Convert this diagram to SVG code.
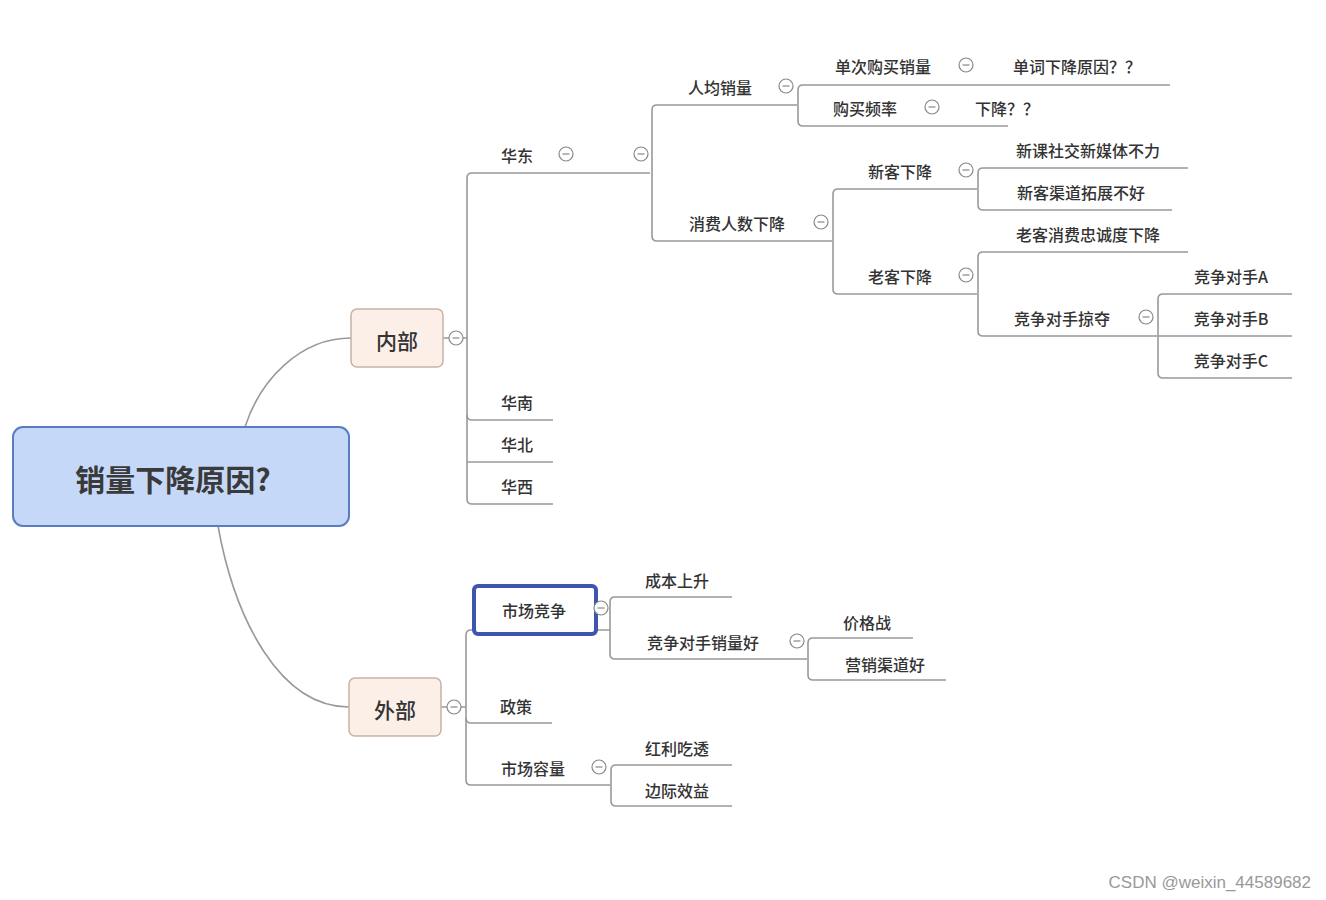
<svg xmlns="http://www.w3.org/2000/svg" width="1326" height="900" viewBox="0 0 1326 900">
<style>
.t{font-family:"Noto Sans CJK SC","Liberation Sans",sans-serif;font-size:16px;fill:#333;text-anchor:middle;dominant-baseline:central;font-weight:500}
.c{fill:#fff;stroke:#888;stroke-width:1.2}
.l{fill:none;stroke:#999;stroke-width:1.6}
</style>
<defs>
<g id="col"><circle r="7" class="c"/><line x1="-3.5" x2="3.5" y1="0" y2="0" stroke="#888" stroke-width="1.2"/></g>
</defs>
<rect width="1326" height="900" fill="#fff"/>
<g id="connectors" class="l">
<path d="M245 427 C260 380 300 338 351 338"/>
<path d="M218 526 C235 620 280 707 349 707"/>
<path d="M443 338 H449 M463 338 H467 M467 178 V499"/>
<path d="M467 178 Q467 173 472 173 H650"/>
<path d="M467 415 Q467 420 472 420 H553"/>
<path d="M467 462 H553"/>
<path d="M467 499 Q467 504 472 504 H553"/>
<path d="M652 110 V236 M652 110 Q652 105 657 105 H797 M652 236 Q652 241 657 241 H832"/>
<path d="M798 90 V121 M798 90 Q798 85 803 85 H1170 M798 121 Q798 126 803 126 H1008"/>
<path d="M833 194 V289 M833 194 Q833 189 838 189 H977 M833 289 Q833 294 838 294 H977"/>
<path d="M978 173 V205 M978 173 Q978 168 983 168 H1188 M978 205 Q978 210 983 210 H1172"/>
<path d="M978 257 V331 M978 257 Q978 252 983 252 H1188 M978 331 Q978 336 983 336 H1157"/>
<path d="M1158 299 V373 M1158 299 Q1158 294 1163 294 H1292 M1158 336 H1292 M1158 373 Q1158 378 1163 378 H1292"/>
<path d="M441 707 H447 M461 707 H466 M466 635 V780"/>
<path d="M466 635 Q466 630 471 630 H474"/>
<path d="M466 718 Q466 723 471 723 H552"/>
<path d="M466 780 Q466 785 471 785 H610"/>
<path d="M596 630 H610 M610 602 V654 M610 602 Q610 597 615 597 H732 M610 654 Q610 659 615 659 H807"/>
<path d="M808 643 V675 M808 643 Q808 638 813 638 H913 M808 675 Q808 680 813 680 H946"/>
<path d="M611 770 V801 M611 770 Q611 765 616 765 H732 M611 801 Q611 806 616 806 H732"/>
</g>
<g id="root"><rect x="13" y="427" width="336" height="99" rx="10" fill="#c6d8f8" stroke="#5a7cc0" stroke-width="2"/><text class="t" x="173" y="478" style="font-size:30px;font-weight:700;fill:#3a3a3a">销量下降原因?</text></g>
<g id="neibu"><rect x="351" y="309" width="92" height="58" rx="6" fill="#fbefe7" stroke="#c9b3a4" stroke-width="1.5"/><text class="t" x="397" y="340" style="font-size:21px">内部</text><use href="#col" x="456" y="338"/></g>
<g id="waibu"><rect x="349" y="678" width="92" height="58" rx="6" fill="#fbefe7" stroke="#c9b3a4" stroke-width="1.5"/><text class="t" x="395" y="709" style="font-size:21px">外部</text><use href="#col" x="454" y="707"/></g>
<g id="huadong"><text class="t" x="517" y="155">华东</text><use href="#col" x="566" y="154"/><use href="#col" x="641" y="154"/></g>
<g id="huanan"><text class="t" x="517" y="402">华南</text></g>
<g id="huabei"><text class="t" x="517" y="444">华北</text></g>
<g id="huaxi"><text class="t" x="517" y="486">华西</text></g>
<g id="renjun"><text class="t" x="720" y="87">人均销量</text><use href="#col" x="786" y="86"/></g>
<g id="danci"><text class="t" x="883" y="66">单次购买销量</text><use href="#col" x="966" y="65"/></g>
<g id="danci2"><text class="t" x="1077" y="66">单词下降原因？？</text></g>
<g id="pinlv"><text class="t" x="865" y="108">购买频率</text><use href="#col" x="932" y="107"/></g>
<g id="pinlv2"><text class="t" x="1007" y="108">下降？？</text></g>
<g id="xiaofei"><text class="t" x="737" y="223">消费人数下降</text><use href="#col" x="821" y="222"/></g>
<g id="xinke"><text class="t" x="900" y="171">新客下降</text><use href="#col" x="966" y="170"/></g>
<g id="xk1"><text class="t" x="1088" y="150">新课社交新媒体不力</text></g>
<g id="xk2"><text class="t" x="1081" y="192">新客渠道拓展不好</text></g>
<g id="laoke"><text class="t" x="900" y="276">老客下降</text><use href="#col" x="966" y="275"/></g>
<g id="lk1"><text class="t" x="1088" y="234">老客消费忠诚度下降</text></g>
<g id="lk2"><text class="t" x="1062" y="318">竞争对手掠夺</text><use href="#col" x="1146" y="317"/></g>
<g id="dsA"><text class="t" x="1231" y="276">竞争对手A</text></g>
<g id="dsB"><text class="t" x="1231" y="318">竞争对手B</text></g>
<g id="dsC"><text class="t" x="1231" y="360">竞争对手C</text></g>
<g id="shichang"><rect x="474" y="586" width="122" height="48" rx="4" fill="#fff" stroke="#3d55b0" stroke-width="4"/><text class="t" x="534" y="610">市场竞争</text><use href="#col" x="601" y="608"/></g>
<g id="chengben"><text class="t" x="677" y="580">成本上升</text></g>
<g id="jzxl"><text class="t" x="703" y="642">竞争对手销量好</text><use href="#col" x="797" y="641"/></g>
<g id="jgz"><text class="t" x="867" y="622">价格战</text></g>
<g id="yxqd"><text class="t" x="885" y="664">营销渠道好</text></g>
<g id="zhengce"><text class="t" x="516" y="706">政策</text></g>
<g id="rongliang"><text class="t" x="533" y="768">市场容量</text><use href="#col" x="599" y="767"/></g>
<g id="hl"><text class="t" x="677" y="748">红利吃透</text></g>
<g id="bj"><text class="t" x="677" y="790">边际效益</text></g>
<text x="1311" y="882" style="font-family:'Liberation Sans',sans-serif;font-size:17px;fill:#999;text-anchor:end;dominant-baseline:central">CSDN @weixin_44589682</text>
</svg>
